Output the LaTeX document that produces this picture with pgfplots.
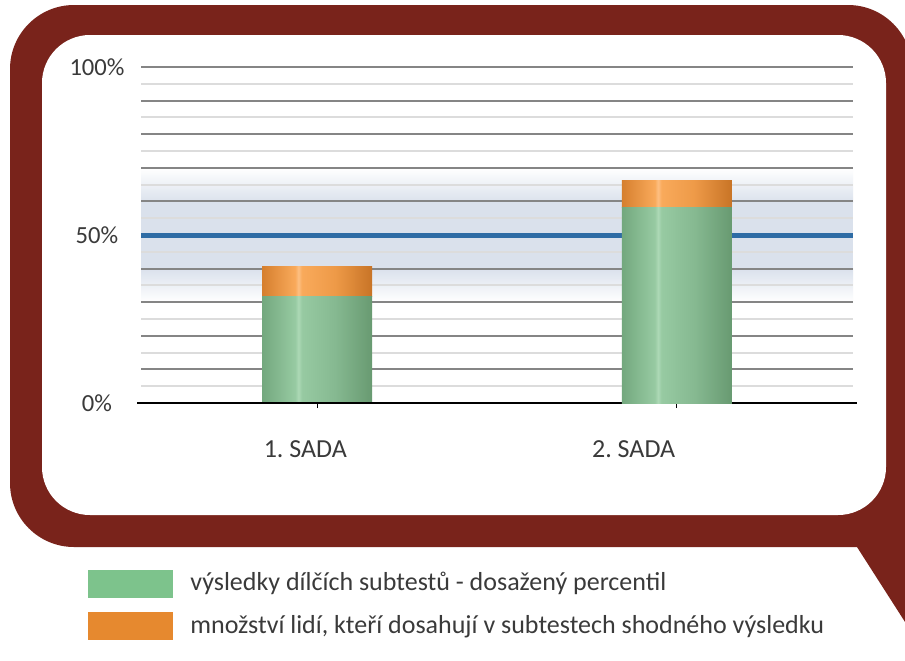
\documentclass[border=0pt]{standalone}
\usepackage{fontspec}
\setmainfont{Carlito}
\usepackage{pgfplots}
\pgfplotsset{compat=1.18}
\frenchspacing

\definecolor{frame}{HTML}{79231B}
\definecolor{band}{HTML}{DAE1EC}
\definecolor{refline}{HTML}{2E6CA5}
\definecolor{majgrid}{HTML}{858585}
\definecolor{mingrid}{HTML}{DCDCDC}
\definecolor{txt}{HTML}{3A3A3A}
\definecolor{legG}{HTML}{7DC38C}
\definecolor{legO}{HTML}{E6892F}
% bar shading (cylinder look)
\definecolor{gL}{HTML}{73A87E}
\definecolor{gH}{HTML}{97CAA2}
\definecolor{gW}{HTML}{ADD9B6}
\definecolor{gM}{HTML}{86B991}
\definecolor{gR}{HTML}{689A71}
\definecolor{oL}{HTML}{D67F2E}
\definecolor{oH}{HTML}{F9AA5B}
\definecolor{oW}{HTML}{FDC084}
\definecolor{oM}{HTML}{EE9A48}
\definecolor{oR}{HTML}{C87426}
\pgfdeclarehorizontalshading{greenbar}{100bp}{color(0bp)=(gL); color(25bp)=(gL); color(40bp)=(gH); color(41.5bp)=(gW); color(43bp)=(gH); color(58bp)=(gM); color(75bp)=(gR); color(100bp)=(gR)}
\pgfdeclarehorizontalshading{orangebar}{100bp}{color(0bp)=(oL); color(25bp)=(oL); color(40bp)=(oH); color(41.5bp)=(oW); color(43bp)=(oH); color(58bp)=(oM); color(75bp)=(oR); color(100bp)=(oR)}

\pgfplotsset{
  sadaaxis/.style={
    at={(70.5pt,-201.5pt)}, anchor=south west,
    scale only axis, width=356pt, height=168pt,
    ybar stacked, bar width=55pt,
    xmin=-0.49, xmax=1.49, ymin=0, ymax=100,
    clip=false,
  },
  greenbar/.style={draw=none, shade, shading=greenbar},
  orangebar/.style={draw=none, shade, shading=orangebar},
}

\begin{document}
\begin{tikzpicture}
% frame, band and legend, in pixel units (y down)
\begin{scope}[x=0.5pt,y=-0.5pt]
\useasboundingbox (0,0) rectangle (905,660);
\clip (0,0) rectangle (905,660);
\fill[frame] (10,300) [rounded corners=32pt] -- (10,5) -- (912,5) -- (912,300)
  [sharp corners] -- (912,700) -- (955,700) -- (857,547)
  [rounded corners=32pt] -- (10,547) -- cycle;
\fill[white, rounded corners=24pt] (42,35) rectangle (886,515);
% light band round the 50 % line (70 % .. 30 %)
\path[top color=white, bottom color=band] (141,168) rectangle (853,202.5);
\fill[band] (141,202) rectangle (853,269);
\path[top color=band, bottom color=white] (141,268.5) rectangle (853,302);
\fill[legG] (88,570) rectangle (173,598);
\fill[legO] (88,612) rectangle (173,640);
\node[anchor=base west, inner sep=0pt, text=txt, font=\fontsize{13}{15}\selectfont]
  at (190,590) {výsledky dílčích subtestů - dosažený percentil};
\node[anchor=base west, inner sep=0pt, text=txt, font=\fontsize{13}{15}\selectfont]
  at (190,633) {množství lidí, kteří dosahují v subtestech shodného výsledku};
\end{scope}

% axis with grid, ticks, labels and the first bar
\begin{axis}[
    sadaaxis,
    axis x line*=bottom, axis y line*=left,
    y axis line style={draw=none},
    x axis line style={draw=none},
    xtick={0,1}, xticklabels={},
    extra x ticks={-0.033,0.88},
    extra x tick labels={1. SADA,2. SADA},
    extra x tick style={major tick length=0pt},
    tick align=outside, major tick length=2.5pt, minor tick length=0pt,
    xtick style={black, line width=0.6pt},
    ytick={0,10,...,100},
    yticklabels={0\%,,,,,50\%,,,,,100\%},
    minor ytick={5,15,...,95},
    ytick style={draw=none},
    ymajorgrids, yminorgrids,
    major grid style={majgrid, line width=1pt},
    minor grid style={mingrid, line width=1pt},
    /pgf/number format/assume math mode=true,
    tick label style={font=\fontsize{12.3}{14}\selectfont, text=txt},
    yticklabel style={anchor=center, xshift=-19.5pt},
    xticklabel style={anchor=center, yshift=-23pt, font=\fontsize{13}{15}\selectfont},
]
\draw[refline, line width=2.5pt] (axis cs:-0.49,50) -- (axis cs:1.49,50);
% 1. SADA: green = dosažený percentil, orange = množství lidí
\addplot[greenbar] coordinates {(0,31.8)};
\addplot[orangebar] coordinates {(0,8.8)};
\end{axis}

% same axis again for the second bar, so each bar gets its own shading
\begin{axis}[sadaaxis, hide axis]
% 2. SADA
\addplot[greenbar] coordinates {(1,58.2)};
\addplot[orangebar] coordinates {(1,7.9)};
\draw[black, line width=0.8pt] (axis cs:-0.501,0) -- (axis cs:1.501,0);
\end{axis}
\end{tikzpicture}
\end{document}
